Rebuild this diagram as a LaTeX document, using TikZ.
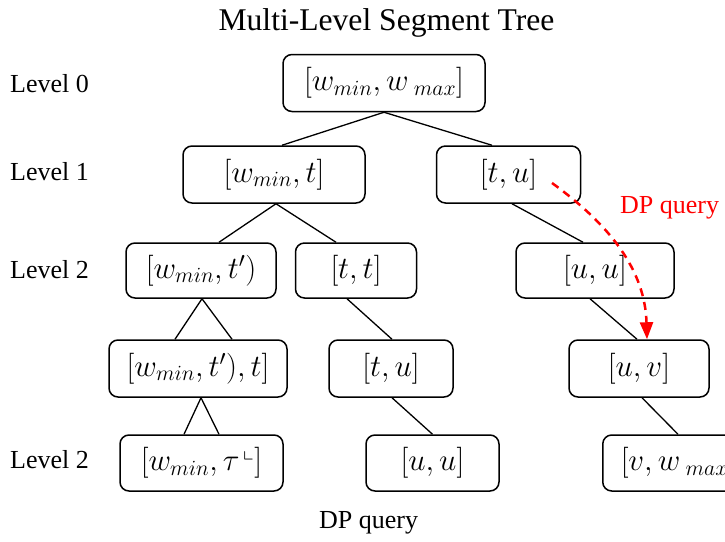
\RequirePackage{fix-cm}
\documentclass[tikz,border=0pt]{standalone}
\usepackage{amssymb}
\usepackage{fontspec}
\setmainfont{Liberation Serif}
\usetikzlibrary{arrows.meta}
\begin{document}
\begin{tikzpicture}[x=1pt,y=-1pt,
  box/.style={draw, rounded corners=9pt, line width=1.5pt, minimum height=56pt, inner sep=0pt, font=\fontsize{31}{36}\selectfont},
  edge/.style={line width=1.3pt},
  lvl/.style={anchor=base west, inner sep=0pt, font=\fontsize{26}{31}\selectfont},
  ttl/.style={anchor=base, inner sep=0pt, font=\fontsize{31.6}{38}\selectfont},
  dparrow/.style={red, line width=2.5pt, dash pattern=on 8pt off 6pt, -{Triangle[length=17pt,width=13pt]}}]
\useasboundingbox (0,0) rectangle (725,541);
\clip (0,0) rectangle (725,541);
\node[ttl] (title) at (386.5,30) {Multi-Level Segment Tree};
\node[lvl] (lv0) at (10,92) {Level 0};
\node[lvl] (lv1) at (10,180) {Level 1};
\node[lvl] (lv2) at (10,278) {Level 2};
\node[lvl] (lv4) at (10,468) {Level 2};
% nodes
\node[box, minimum width=202pt, minimum height=57pt] (r0) at (384,83) {$[w_{min}, w_{\;max}]$};
\node[box, minimum width=182pt, minimum height=57pt] (r1a) at (274,174.5) {$[w_{min}, t]$};
\node[box, minimum width=144pt, minimum height=57pt] (r1b) at (508.5,174.5) {$[t, u]$};
\node[box, minimum width=150pt, minimum height=55pt] (r2a) at (201,270.5) {$[w_{min}, t')$};
\node[box, minimum width=121pt, minimum height=55pt] (r2b) at (356,270.5) {$[t, t]$};
\node[box, minimum width=158pt, minimum height=55pt] (r2c) at (595,270.5) {$[u, u]$};
\node[box, minimum width=178pt, minimum height=57pt] (r3a) at (198,368.5) {$[w_{min}, t'), t]$};
\node[box, minimum width=124pt, minimum height=57pt] (r3b) at (391,368.5) {$[t, u]$};
\node[box, minimum width=140pt, minimum height=57pt] (r3c) at (639,368.5) {$[u, v]$};
\node[box, minimum width=163pt, minimum height=56pt] (r4a) at (201.5,463) {$[w_{min}, \tau^{\,\llcorner}]$};
\node[box, minimum width=133pt, minimum height=56pt] (r4b) at (432.5,463) {$[u, u]$};
\node[box, minimum height=56pt, anchor=west, inner xsep=18pt, text width=170pt, align=left] (r4c) at (602,463) {$[v, w_{\;max}]$};
% edges
\draw[edge] (r0.south) -- ([xshift=8pt]r1a.north);
\draw[edge] (r0.south) -- ([xshift=-16.5pt]r1b.north);
\draw[edge] ([xshift=2pt]r1a.south) -- ([xshift=18pt]r2a.north);
\draw[edge] ([xshift=2pt]r1a.south) -- ([xshift=-20pt]r2b.north);
\draw[edge] ([xshift=3.5pt]r1b.south) -- ([xshift=-12pt]r2c.north);
\draw[edge] ([xshift=1pt]r2a.south) -- ([xshift=-23pt]r3a.north);
\draw[edge] ([xshift=1pt]r2a.south) -- ([xshift=34pt]r3a.north);
\draw[edge] ([xshift=-9pt]r2b.south) -- ([xshift=1pt]r3b.north);
\draw[edge] ([xshift=-5pt]r2c.south) -- ([xshift=-2pt]r3c.north);
\draw[edge] ([xshift=3pt]r3a.south) -- ([xshift=-17.5pt]r4a.north);
\draw[edge] ([xshift=3pt]r3a.south) -- ([xshift=17.5pt]r4a.north);
\draw[edge] ([xshift=1pt]r3b.south) -- (r4b.north);
\draw[edge] ([xshift=3pt]r3c.south) -- ([xshift=76pt]r4c.north west);
% DP query
\coordinate (dps) at (552,183);
\draw[dparrow] (dps) .. controls (610,225) and (645,270) .. ([xshift=8pt]r3c.north);
\node[lvl, red] (dpl) at (620,213) {DP query};
\node[lvl] (dpb) at (319,528) {DP query};
\end{tikzpicture}
\end{document}
